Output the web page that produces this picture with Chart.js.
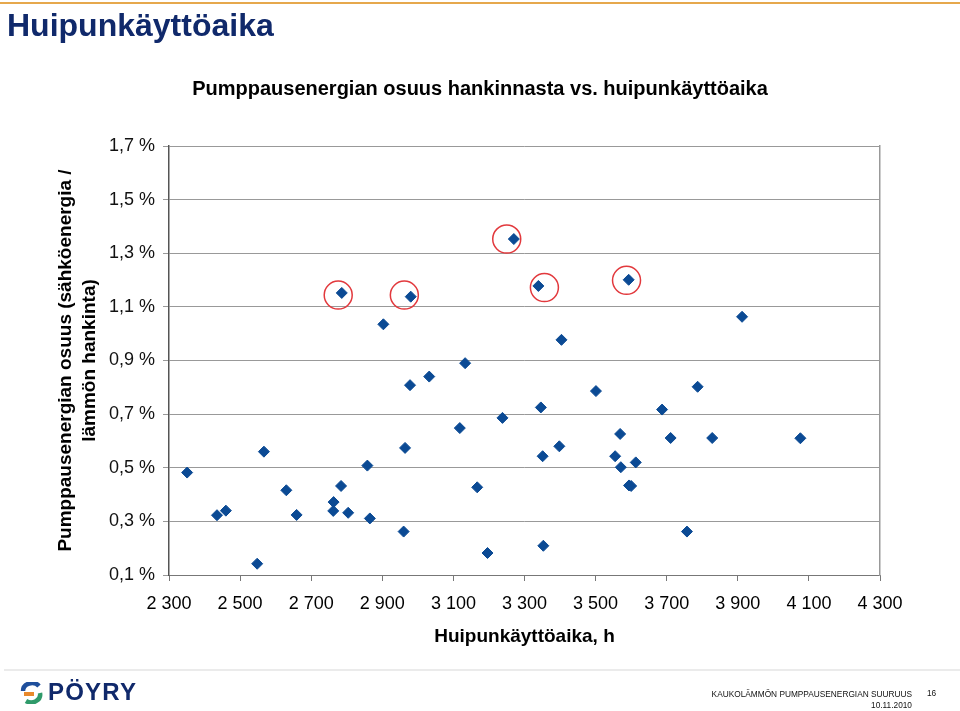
<!DOCTYPE html>
<html>
<head>
<meta charset="utf-8">
<script src="https://cdn.jsdelivr.net/npm/chart.js@4.4.0/dist/chart.umd.min.js"></script>
<style>
    body { margin: 0; background: #fff; font-family: "Liberation Sans", Arial, sans-serif; }
    #page { position: relative; width: 960px; height: 711px; overflow: hidden; background: #fff; }
    #chart { position: absolute; left: 0; top: 0; }
    #topLine { position: absolute; left: 0; top: 2px; width: 960px; height: 2px; background: #e6a84c; }
    #slideTitle { position: absolute; left: 7px; top: 7px; font-size: 32px; line-height: 36px; font-weight: bold; color: #10296b; }
    #footLine { position: absolute; left: 4px; top: 669px; width: 956px; height: 2px; background: #ebebeb; }
    #logo { position: absolute; left: 19px; top: 682px; }
    #logoText { position: absolute; left: 48px; top: 680px; font-size: 24px; line-height: 24px; font-weight: bold; letter-spacing: 1.2px; color: #10296b; }
    #footText { position: absolute; right: 48px; top: 689px; font-size: 8.3px; line-height: 11px; text-align: right; color: #111; }
    #pageNo { position: absolute; left: 927px; top: 688px; font-size: 8.3px; line-height: 11px; color: #111; }
</style>
</head>
<body>
<div id="page">
    <canvas id="chart" width="960" height="711"></canvas>
    <div id="topLine"></div>
    <div id="slideTitle">Huipunkäyttöaika</div>
    <div id="footLine"></div>
    <svg id="logo" width="26" height="22" viewBox="0 0 26 22">
        <path d="M20 4 A9 8 0 0 0 4 9" fill="none" stroke="#1f4f9c" stroke-width="4.5"/>
        <path d="M5 12 L15 12" stroke="#e8892b" stroke-width="4"/>
        <path d="M21 11 A9 8 0 0 1 7 19" fill="none" stroke="#2f9a6a" stroke-width="4.5"/>
    </svg>
    <div id="logoText">PÖYRY</div>
    <div id="footText">KAUKOLÄMMÖN PUMPPAUSENERGIAN SUURUUS<br>10.11.2010</div>
    <div id="pageNo">16</div>
</div>
<script>
// huipunkäyttöaika (h) ja pumppausenergian osuus (%)
const hours = [2351, 2435, 2460, 2548, 2567, 2630, 2659, 2763, 2762, 2784, 2786, 2804, 2858, 2865, 2903, 2960,
    2964, 2980, 2978, 3032, 3118, 3133, 3167, 3196, 3238, 3270, 3339, 3346, 3351, 3353, 3398, 3404,
    3501, 3555, 3569, 3571, 3593, 3594, 3600, 3613, 3687, 3711, 3757, 3787, 3828, 3912, 4076];
const shares = [0.482, 0.323, 0.340, 0.142, 0.560, 0.416, 0.324, 0.372, 0.339, 0.432, 1.152, 0.332, 0.508, 0.311, 1.035, 0.262,
    0.574, 1.138, 0.808, 0.840, 0.648, 0.890, 0.427, 0.182, 0.686, 1.353, 1.178, 0.725, 0.543, 0.209, 0.580, 0.977,
    0.786, 0.543, 0.626, 0.502, 1.201, 0.434, 0.432, 0.520, 0.717, 0.611, 0.262, 0.802, 0.611, 1.063, 0.610];

// punaisella ympyröidyt
const circledHours = [2776, 2962, 3250, 3356, 3587];
const circledShares = [1.144, 1.144, 1.353, 1.172, 1.199];

// akselit
const xMin = 2300, xMax = 4300, xStep = 200;
const yMin = 0.1, yMax = 1.7, yStep = 0.2;

const chartTitle = 'Pumppausenergian osuus hankinnasta vs. huipunkäyttöaika';
const xTitle = 'Huipunkäyttöaika, h';
const yTitle = ['Pumppausenergian osuus (sähköenergia /', 'lämmön hankinta)'];

const points = hours.map((h, i) => ({x: h, y: shares[i]}));
const circles = circledHours.map((h, i) => ({x: h, y: circledShares[i]}));

const fontFamily = '"Liberation Sans", Arial, sans-serif';

new Chart(document.getElementById('chart'), {
    type: 'scatter',
    data: {
        datasets: [{
            data: points,
            pointStyle: 'rectRot',
            pointRadius: 5.5,
            backgroundColor: '#0b4a94',
            borderColor: '#0b4a94',
            borderWidth: 1
        }, {
            data: circles,
            pointStyle: 'circle',
            pointRadius: 14,
            backgroundColor: 'rgba(0,0,0,0)',
            borderColor: '#e2393d',
            borderWidth: 1.5
        }]
    },
    options: {
        responsive: false,
        animation: false,
        layout: { padding: 0 },
        plugins: {
            legend: { display: false },
            tooltip: { enabled: false },
            title: {
                display: true,
                text: chartTitle,
                color: '#000',
                font: { family: fontFamily, size: 20, weight: 'bold', lineHeight: 1.2 },
                padding: { top: 77, bottom: 45 }
            }
        },
        scales: {
            x: {
                type: 'linear',
                position: 'bottom',
                min: xMin,
                max: xMax,
                afterFit: s => { s.height = 136; },
                ticks: {
                    stepSize: xStep,
                    autoSkip: false,
                    maxRotation: 0,
                    padding: 12,
                    color: '#000',
                    font: { family: fontFamily, size: 18 },
                    callback: v => String(v).replace(/\B(?=(\d{3})+$)/, ' ')
                },
                grid: { drawOnChartArea: false, tickLength: 6, color: '#777' },
                border: { color: '#777', width: 1 },
                title: {
                    display: true,
                    text: xTitle,
                    color: '#000',
                    font: { family: fontFamily, size: 19, weight: 'bold', lineHeight: 1.2 },
                    padding: { top: 0, bottom: 63 }
                }
            },
            y: {
                position: 'left',
                min: yMin,
                max: yMax,
                afterFit: s => { s.width = 169; },
                ticks: {
                    stepSize: yStep,
                    padding: 8,
                    color: '#111',
                    font: { family: fontFamily, size: 18 },
                    callback: v => v.toFixed(1).replace('.', ',') + ' %'
                },
                grid: { color: '#999', tickLength: 6 },
                border: { color: '#555', width: 1.5 },
                title: {
                    display: true,
                    text: yTitle,
                    color: '#000',
                    font: { family: fontFamily, size: 19, weight: 'bold', lineHeight: 1.3 },
                    padding: { top: 53, bottom: 0 }
                }
            },
            y2: {
                position: 'right',
                min: yMin,
                max: yMax,
                afterFit: s => { s.width = 80; },
                ticks: { display: false },
                grid: { display: false },
                border: { color: '#999', width: 1.5 }
            }
        }
    }
});
</script>
</body>
</html>
